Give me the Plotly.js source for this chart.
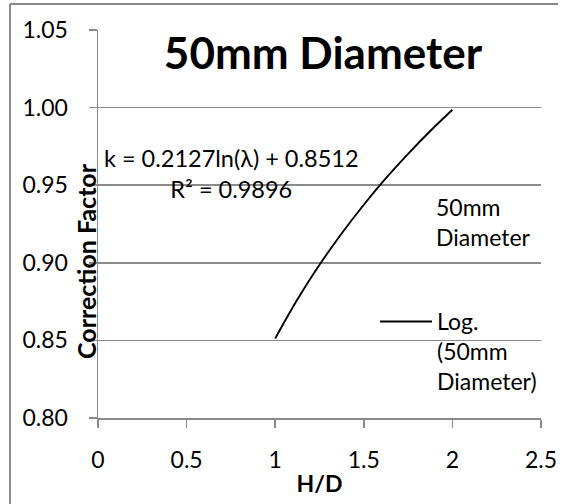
<!DOCTYPE html>
<html>
<head>
<meta charset="utf-8">
<script src="https://cdn.plot.ly/plotly-3.0.1.min.js"></script>
<style>
html,body{margin:0;padding:0;background:#fff;}
#chart{width:569px;height:504px;}
</style>
</head>
<body>
<div id="chart"></div>
<script>
// Data
const seriesName = "50mm<br>Diameter";
const trendName = "Log.<br>(50mm<br>Diameter)";
const hd = [1, 1.125, 1.25, 1.375, 1.5, 1.625, 1.75, 1.875, 2];
const correctionFactor = [0.8512, 0.8763, 0.8987, 0.9189, 0.9374, 0.9545, 0.9702, 0.9849, 0.9986];
const equationText = "k = 0.2127ln(λ) + 0.8512<br>R² = 0.9896";
const chartTitle = "50mm Diameter";
const xTitle = "H/D";
const yTitle = "Correction Factor";

const FONT = "Lato, 'Noto Sans', sans-serif";
const GRID = "#8a8a8a";

// pixel helpers for paper coords (plot area 98..541 x, 30..418 y)
const L = 98, R = 541, T = 30, B = 418;
const px = v => (v - L) / (R - L);
const py = v => (B - v) / (B - T);

const traces = [
  {
    x: hd, y: correctionFactor,
    type: "scatter", mode: "none",
    name: seriesName, legend: "legend",
    hoverinfo: "skip"
  },
  {
    x: hd, y: correctionFactor,
    type: "scatter", mode: "lines",
    line: {color: "#000000", width: 1.9, shape: "spline", smoothing: 1},
    name: trendName, legend: "legend2"
  }
];

const layout = {
  width: 569, height: 504,
  paper_bgcolor: "#ffffff", plot_bgcolor: "#ffffff",
  margin: {l: L, r: 569 - R, t: T, b: 504 - B, pad: 0},
  font: {family: FONT, size: 23, color: "#000000"},
  title: {
    text: chartTitle,
    font: {family: FONT, size: 44, color: "#000000", weight: "bold"},
    xref: "paper", x: px(323), xanchor: "center",
    yref: "container", y: 1 - 54 / 504, yanchor: "middle"
  },
  xaxis: {
    range: [0, 2.5], dtick: 0.5, tick0: 0,
    showgrid: false, zeroline: false,
    showline: true, linecolor: GRID, linewidth: 1.5,
    ticks: "outside", ticklen: 8, tickcolor: GRID, tickwidth: 1.5,
    ticklabelstandoff: 13,
    tickfont: {family: FONT, size: 23, color: "#000"},
    title: {text: xTitle, font: {family: FONT, size: 23, weight: "bold", color: "#000"}, standoff: 4},
    fixedrange: true
  },
  yaxis: {
    range: [0.80, 1.05], dtick: 0.05, tick0: 0.8, tickformat: ".2f",
    showgrid: true, gridcolor: GRID, gridwidth: 1.5,
    zeroline: false,
    showline: true, linecolor: GRID, linewidth: 1.5,
    ticks: "outside", ticklen: 8, tickcolor: GRID, tickwidth: 1.5,
    ticklabelstandoff: 16,
    tickfont: {family: FONT, size: 23, color: "#000"},
    fixedrange: true
  },
  legend: {
    x: px(396), xanchor: "left", y: py(186), yanchor: "top",
    bgcolor: "rgba(0,0,0,0)", borderwidth: 0,
    font: {family: FONT, size: 23, color: "#000"},
    valign: "top"
  },
  legend2: {
    x: px(375), xanchor: "left", y: py(300), yanchor: "top",
    bgcolor: "rgba(0,0,0,0)", borderwidth: 0,
    font: {family: FONT, size: 23, color: "#000"},
    valign: "top", itemwidth: 52
  },
  annotations: [
    {
      text: equationText, xref: "paper", yref: "paper",
      x: px(231), y: py(173), xanchor: "center", yanchor: "middle",
      align: "center", showarrow: false,
      font: {family: FONT, size: 23.5, color: "#000"}
    },
    {
      text: yTitle, xref: "paper", yref: "paper",
      x: px(86), y: py(261), xanchor: "center", yanchor: "middle",
      textangle: -90, showarrow: false,
      font: {family: FONT, size: 25, weight: "bold", color: "#000"}
    }
  ],
  shapes: [
    {type: "line", xref: "paper", yref: "paper", x0: px(10), x1: px(558), y0: py(4), y1: py(4),
     line: {color: GRID, width: 2}},
    {type: "line", xref: "paper", yref: "paper", x0: px(10), x1: px(10), y0: py(4), y1: py(506),
     line: {color: GRID, width: 2}}
  ],
  showlegend: true
};

Plotly.newPlot("chart", traces, layout, {displayModeBar: false, staticPlot: true});
</script>
</body>
</html>
